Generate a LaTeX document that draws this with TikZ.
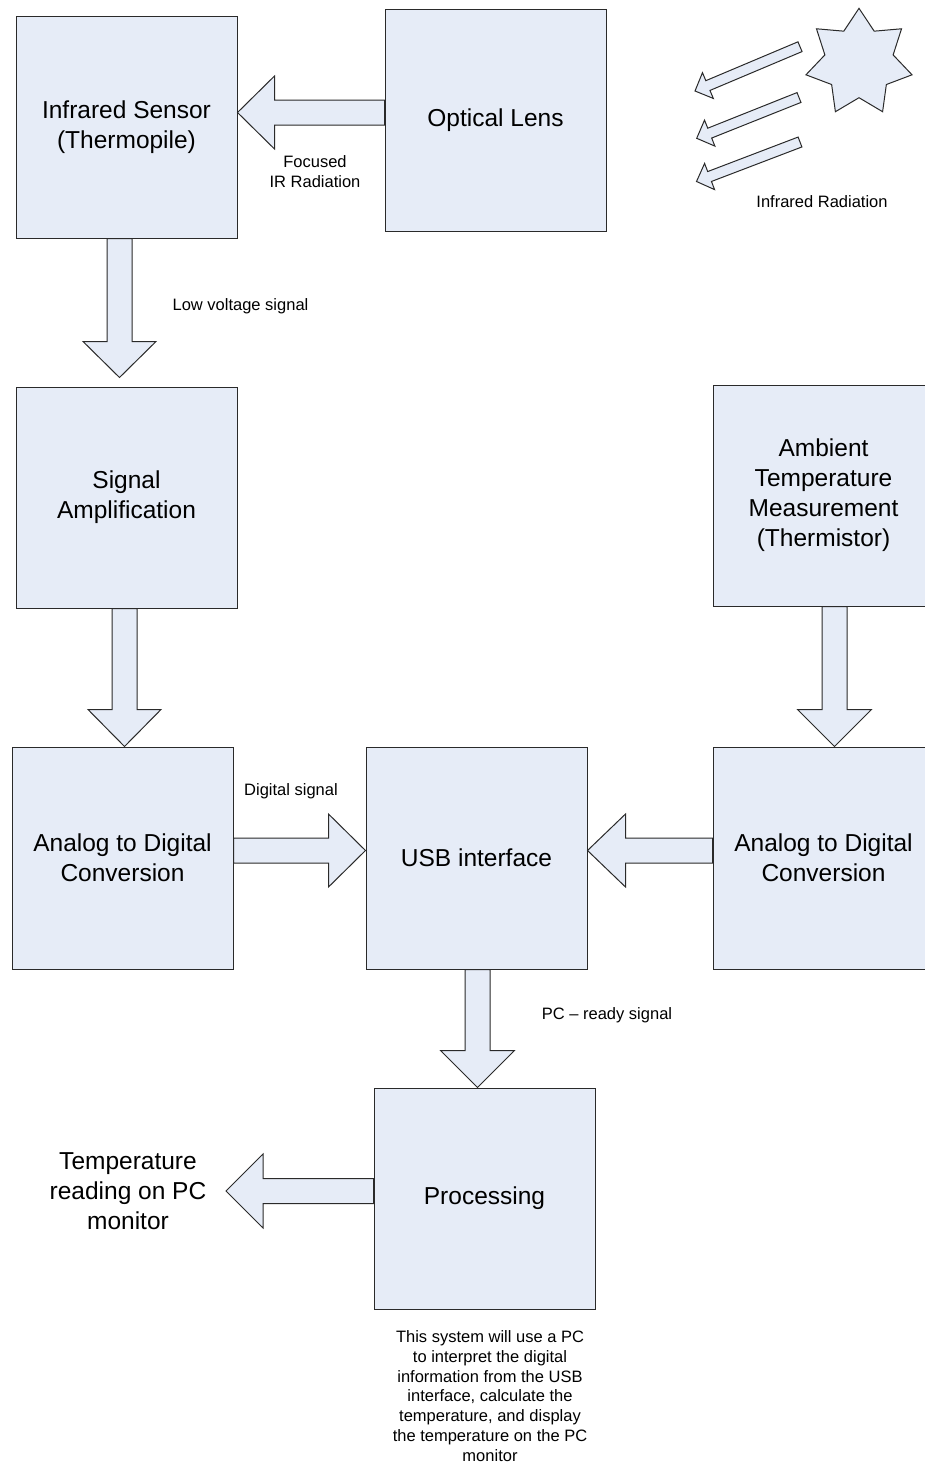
\documentclass[tikz,border=0pt]{standalone}
\usepackage{fontspec}
\setmainfont{Liberation Sans}
\usetikzlibrary{calc}
\definecolor{boxfill}{HTML}{E6ECF7}
\definecolor{edgecol}{HTML}{2A2A2A}
\newcommand\bigtxt{\fontsize{24.5}{30}\selectfont}
\newcommand\smalltxt{\fontsize{16.5}{20}\selectfont}
\newcommand\notetxt{\fontsize{16.5}{19.8}\selectfont}
% tail, tip, shaft half width, head half width, head length
\newcommand\blockarrow[5]{%
  \draw[blockarr] let \p1=(#1), \p2=(#2),
    \n1={atan2(\y2-\y1,\x2-\x1)}, \n2={veclen(\x2-\x1,\y2-\y1)} in
    [shift={(\p1)}, rotate=\n1]
    (0,#3) -- ({\n2-#5},#3) -- ({\n2-#5},#4) -- (\n2,0)
    -- ({\n2-#5},-#4) -- ({\n2-#5},-#3) -- (0,-#3) -- cycle;}
\begin{document}
\begin{tikzpicture}[x=1pt,y=-1pt,
  blockbox/.style={draw=edgecol, fill=boxfill, line width=1pt,
    minimum width=221pt, minimum height=222pt, inner sep=0pt,
    align=center, font=\bigtxt},
  blockarr/.style={draw=edgecol, fill=boxfill, line width=1pt, line join=miter},
  lbl/.style={font=\smalltxt, align=center, inner sep=0pt},
  biglbl/.style={font=\bigtxt, align=center, inner sep=0pt}]
\useasboundingbox (0,0) rectangle (925,1465);

% boxes
\node[blockbox] (sensor) at (126.5,127) {Infrared Sensor\\(Thermopile)};
\node[blockbox] (lens)   at (495.5,120) {Optical Lens};
\node[blockbox, minimum height=221pt] (amp) at (126.5,497.5) {Signal\\Amplification};
\node[blockbox, minimum height=221pt] (amb) at (823.5,495.5) {Ambient\\Temperature\\Measurement\\(Thermistor)};
\node[blockbox] (adcL) at (122.5,858) {Analog to Digital\\Conversion};
\node[blockbox] (usb)  at (476.5,858) {USB interface};
\node[blockbox] (adcR) at (823.5,858) {Analog to Digital\\Conversion};
\node[blockbox, minimum height=221pt] (proc) at (484.5,1198.5) {Processing};

% labels
\node[lbl] (lfoc) at (315,171.5) {Focused\\IR Radiation};
\node[lbl] (lir)  at (822,201.5) {Infrared Radiation};
\node[lbl] (llow) at (240.5,306.5) {Low voltage signal};
\node[lbl] (ldig) at (291,791.5) {Digital signal};
\node[lbl] (lpc)  at (607,1015.5) {PC – ready signal};
\node[biglbl] (out) at (128,1191) {Temperature\\reading on PC\\monitor};
\node[lbl, font=\notetxt] (note) at (490,1396) {This system will use a PC\\to interpret the digital\\information from the USB\\interface, calculate the\\temperature, and display\\the temperature on the PC\\monitor};

% block arrows
\coordinate (a1) at ($(lens.west)+(0,-7.5)$);
\blockarrow{a1}{sensor.east |- a1}{12.5}{36.5}{37}
\coordinate (a2) at ($(sensor.south)+(-7,0)$);
\coordinate (b2) at ($(a2 |- amp.north)+(0,-9)$);
\blockarrow{a2}{b2}{12.5}{36.5}{36}
\coordinate (a3) at ($(amp.south)+(-2,0)$);
\blockarrow{a3}{a3 |- adcL.north}{12.5}{36.5}{37}
\coordinate (a4) at ($(adcL.east)+(0,-7.5)$);
\blockarrow{a4}{usb.west |- a4}{12.5}{36.5}{37}
\coordinate (a5) at ($(adcR.west)+(0,-7.5)$);
\blockarrow{a5}{usb.east |- a5}{12.5}{36.5}{38}
\coordinate (a6) at ($(amb.south)+(11,0)$);
\blockarrow{a6}{a6 |- adcR.north}{12.5}{37}{37}
\coordinate (a7) at ($(usb.south)+(1,0)$);
\blockarrow{a7}{a7 |- proc.north}{12.5}{37}{37}
\coordinate (a8) at ($(proc.west)+(0,-7.5)$);
\coordinate (b8) at (226,1191);
\blockarrow{a8}{b8}{12.5}{37}{37}

% star
\coordinate (starc) at (859,62.7);
\draw[blockarr] ($(starc)+(-90:54.4)$)
  \foreach \k/\r in {1/35,2/54.4,3/35,4/54.4,5/35,6/54.4,7/35,8/54.4,9/35,10/54.4,11/35,12/54.4,13/35}
  { -- ($(starc)+({-90+\k*25.7143}:\r)$) } -- cycle;

% infrared radiation arrows
\coordinate (r1t) at (800,46.7);  \coordinate (r1h) at (695,91);
\coordinate (r2t) at (799,97.5);  \coordinate (r2h) at (696.7,138.3);
\coordinate (r3t) at (800,142);   \coordinate (r3h) at (696.5,181.5);
\blockarrow{r1t}{r1h}{5.3}{14}{14}
\blockarrow{r2t}{r2h}{5.3}{14}{14}
\blockarrow{r3t}{r3h}{5.3}{14}{14}
\end{tikzpicture}
\end{document}
